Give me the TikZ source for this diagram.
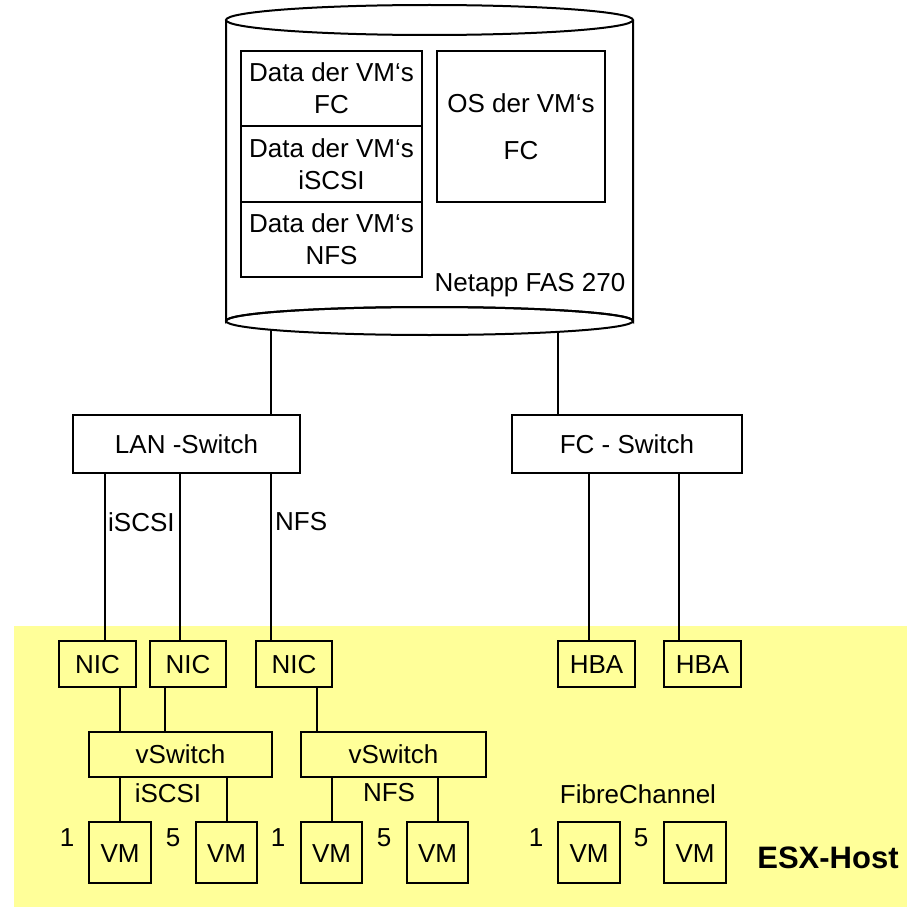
\documentclass[tikz,border=0pt]{standalone}
\usepackage{fontspec}
\setmainfont{Liberation Sans}
\definecolor{esxyellow}{RGB}{255,255,153}
\tikzset{
  box/.style={draw=black, line width=2pt, inner sep=0pt, align=center},
  wbox/.style={box, fill=white},
  conn/.style={draw=black, line width=2pt},
  lbl/.style={inner sep=0pt, align=center},
  low/.style={text height=19pt, text depth=-3pt},
}
\begin{document}
\begin{tikzpicture}[x=1pt,y=-1pt, font=\fontsize{26}{30}\selectfont]
\useasboundingbox (0,0) rectangle (914,907);
% ESX host area
\fill[esxyellow] (14,626) rectangle (907,907);
% storage cylinder
\draw[line width=2pt, fill=white] (226,20) -- (226,321) arc[start angle=180, end angle=360, x radius=203.5, y radius=14] -- (633,20);
\draw[line width=2pt, fill=white] (429.5,20) ellipse [x radius=203.5, y radius=15];
\draw[line width=2pt] (429.5,321) ellipse [x radius=203.5, y radius=14];
\coordinate (cylA) at (271,330);
\coordinate (cylB) at (558,332);
% inner boxes
\node[box, minimum width=181, minimum height=75] (d1) at (331.5,88.5) {Data der VM‘s\\[2pt]FC};
\node[box, minimum width=181, minimum height=76] (d2) at (331.5,164) {Data der VM‘s\\[2pt]iSCSI};
\node[box, minimum width=181, minimum height=75] (d3) at (331.5,239.5) {Data der VM‘s\\[2pt]NFS};
\node[box, minimum width=168, minimum height=151] (os) at (521,126.5) {OS der VM‘s\\[17pt]FC};
\node[lbl] (netapp) at (530,285) {Netapp FAS 270};
% switches
\node[wbox, minimum width=227, minimum height=58] (lan) at (186.5,444) {LAN -Switch};
\node[wbox, minimum width=230, minimum height=58] (fcs) at (627,444) {FC - Switch};
% NICs / HBAs
\node[box, low, minimum width=77, minimum height=46] (nic1) at (97.5,664) {NIC};
\node[box, low, minimum width=76, minimum height=46] (nic2) at (188,664) {NIC};
\node[box, low, minimum width=76, minimum height=46] (nic3) at (294,664) {NIC};
\node[box, low, minimum width=77, minimum height=46] (hba1) at (596.5,664) {HBA};
\node[box, low, minimum width=77, minimum height=46] (hba2) at (702.5,664) {HBA};
% vSwitches
\node[box, minimum width=183, minimum height=45] (vs1) at (180.5,754.5) {vSwitch};
\node[box, minimum width=185, minimum height=45] (vs2) at (393.5,754.5) {vSwitch};
% VMs
\node[box, low, minimum width=62, minimum height=61] (vm1) at (120,852.5) {VM};
\node[box, low, minimum width=61, minimum height=61] (vm2) at (226.5,852.5) {VM};
\node[box, low, minimum width=61, minimum height=61] (vm3) at (331.5,852.5) {VM};
\node[box, low, minimum width=61, minimum height=61] (vm4) at (437.5,852.5) {VM};
\node[box, low, minimum width=62, minimum height=61] (vm5) at (589,852.5) {VM};
\node[box, low, minimum width=62, minimum height=61] (vm6) at (695,852.5) {VM};
% x positions for connectors
\coordinate (xa) at (105,0);
\coordinate (xb) at (180,0);
\coordinate (xc) at (271,0);
\coordinate (xd) at (589,0);
\coordinate (xe) at (679,0);
\coordinate (xf) at (120,0);
\coordinate (xg) at (165,0);
\coordinate (xh) at (317,0);
% connectors
\draw[conn] (cylA) -- (lan.north -| cylA);
\draw[conn] (cylB) -- (fcs.north -| cylB);
\draw[conn] (lan.south -| xa) -- (nic1.north -| xa);
\draw[conn] (lan.south -| xb) -- (nic2.north -| xb);
\draw[conn] (lan.south -| xc) -- (nic3.north -| xc);
\draw[conn] (fcs.south -| xd) -- (hba1.north -| xd);
\draw[conn] (fcs.south -| xe) -- (hba2.north -| xe);
\draw[conn] (nic1.south -| xf) -- (vs1.north -| xf);
\draw[conn] (nic2.south -| xg) -- (vs1.north -| xg);
\draw[conn] (nic3.south -| xh) -- (vs2.north -| xh);
\draw[conn] (vs1.south -| vm1.north) -- (vm1.north);
\draw[conn] (vs1.south -| vm2.north) -- (vm2.north);
\draw[conn] (vs2.south -| vm3.north) -- (vm3.north);
\draw[conn] (vs2.south -| vm4.north) -- (vm4.north);
% labels
\node[lbl, anchor=west] (liscsi) at (108,522) {iSCSI};
\node[lbl, anchor=west] (lnfs) at (275,522) {NFS};
\node[lbl] (viscsi) at (168,793) {iSCSI};
\node[lbl] (vnfs) at (389,793) {NFS};
\node[lbl] (fibre) at (638,794) {FibreChannel};
\node[lbl] (n1) at (67,838) {1};
\node[lbl] (n2) at (173,838) {5};
\node[lbl] (n3) at (278,838) {1};
\node[lbl] (n4) at (384,838) {5};
\node[lbl] (n5) at (536,838) {1};
\node[lbl] (n6) at (641,838) {5};
\node[lbl, font=\fontsize{31}{35}\selectfont\bfseries] (esx) at (828,858) {ESX-Host};
\end{tikzpicture}
\end{document}
